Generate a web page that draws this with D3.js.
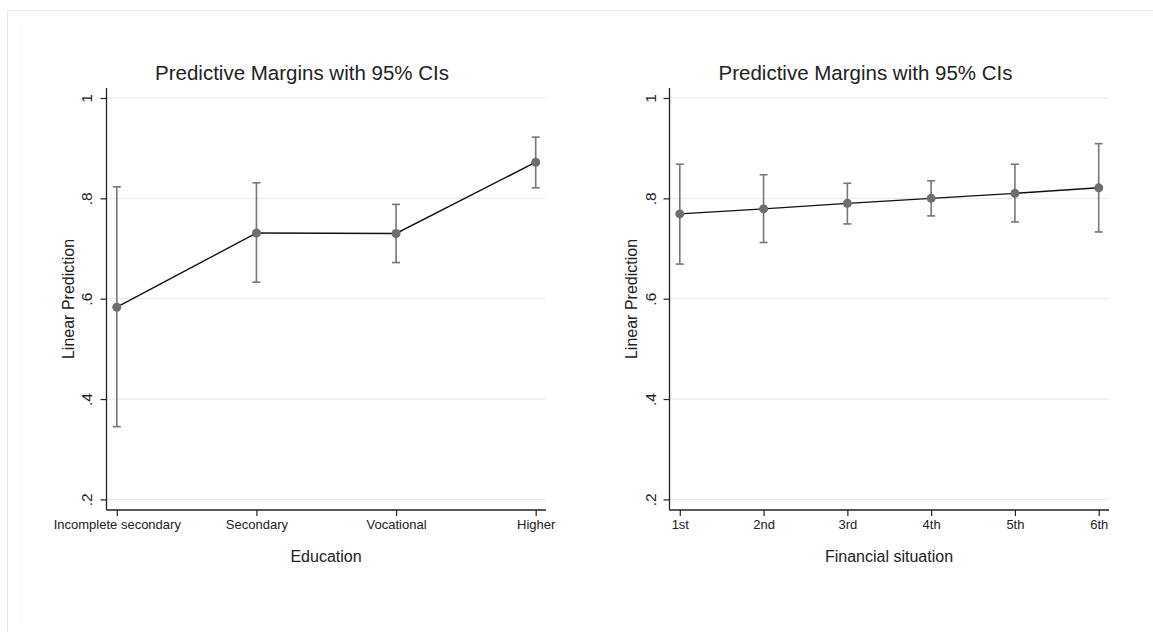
<!DOCTYPE html>
<html>
<head>
<meta charset="utf-8">
<script src="https://cdn.jsdelivr.net/npm/d3@7"></script>
<style>
  html, body { margin: 0; padding: 0; background: #ffffff; }
  svg { display: block; }
  text { font-family: Arial, "Liberation Sans", Helvetica, sans-serif; fill: #222; }
</style>
</head>
<body>
<svg id="chart" width="1153" height="632"></svg>
<script>
// Margins by education level
const eduCategories = ["Incomplete secondary", "Secondary", "Vocational", "Higher"];
const eduMargin = [0.583, 0.731, 0.730, 0.872];
const eduLower  = [0.345, 0.633, 0.672, 0.821];
const eduUpper  = [0.823, 0.831, 0.788, 0.922];

// Margins by financial situation
const finCategories = ["1st", "2nd", "3rd", "4th", "5th", "6th"];
const finMargin = [0.769, 0.779, 0.790, 0.800, 0.810, 0.821];
const finLower  = [0.669, 0.712, 0.749, 0.765, 0.753, 0.733];
const finUpper  = [0.868, 0.847, 0.830, 0.835, 0.868, 0.909];

const yTicks = [0.2, 0.4, 0.6, 0.8, 1];
const yTickLabels = [".2", ".4", ".6", ".8", "1"];
const chartTitle = "Predictive Margins with 95% CIs";
const yTitle = "Linear Prediction";

const svg = d3.select("#chart");

// faint outer frame
const frame = svg.append("g");
frame.append("line").attr("x1", 7).attr("x2", 1153).attr("y1", 10.5).attr("y2", 10.5)
  .attr("stroke", "#e6ecec").attr("stroke-width", 1);
frame.append("line").attr("x1", 7.5).attr("x2", 7.5).attr("y1", 10).attr("y2", 632)
  .attr("stroke", "#e6ecec").attr("stroke-width", 1);
frame.append("line").attr("x1", 20.5).attr("x2", 20.5).attr("y1", 23).attr("y2", 624)
  .attr("stroke", "#f3f5f5").attr("stroke-width", 1);

function panel(cfg) {
  const g = svg.append("g");
  const top = 88, bottom = 510;
  const x = d3.scalePoint()
    .domain(cfg.categories)
    .range([cfg.x0 + cfg.inset, cfg.x1 - cfg.inset]);
  const y = d3.scaleLinear().domain([0.2, 1]).range([499.4, 98]);

  // horizontal grid
  g.append("g").selectAll("line").data(yTicks).join("line")
    .attr("x1", cfg.x0).attr("x2", cfg.x1)
    .attr("y1", d => y(d)).attr("y2", d => y(d))
    .attr("stroke", "#e8e8e8").attr("stroke-width", 1);

  // y axis
  const yAxis = d3.axisLeft(y).tickValues(yTicks)
    .tickFormat((d, i) => yTickLabels[i]).tickSize(6).tickPadding(3);
  const ya = g.append("g").attr("transform", `translate(${cfg.x0},0)`).call(yAxis);
  ya.select(".domain").remove();
  ya.selectAll(".tick line").attr("stroke", "#222").attr("stroke-width", 1.2);
  ya.selectAll(".tick text")
    .attr("x", null).attr("dy", null)
    .attr("transform", `translate(${cfg.yLabelX - cfg.x0},0) rotate(-90)`)
    .attr("text-anchor", "middle").attr("dominant-baseline", "central")
    .style("font-size", "15.5px").style("font-family", "Arial, 'Liberation Sans', sans-serif")
    .attr("fill", "#222");
  g.append("line").attr("x1", cfg.x0).attr("x2", cfg.x0).attr("y1", top).attr("y2", bottom)
    .attr("stroke", "#222").attr("stroke-width", 1.3);

  // x axis
  const xAxis = d3.axisBottom(x).tickSize(6).tickPadding(4);
  const xa = g.append("g").attr("transform", `translate(0,${bottom})`).call(xAxis);
  xa.select(".domain").remove();
  xa.selectAll(".tick line").attr("stroke", "#222").attr("stroke-width", 1.2);
  xa.selectAll(".tick text")
    .attr("y", 14).attr("dy", "0.35em")
    .style("font-size", "13px").style("font-family", "Arial, 'Liberation Sans', sans-serif")
    .attr("fill", "#222");
  g.append("line").attr("x1", cfg.x0).attr("x2", cfg.x1).attr("y1", bottom).attr("y2", bottom)
    .attr("stroke", "#222").attr("stroke-width", 1.3);

  // titles
  g.append("text").attr("x", cfg.titleX).attr("y", 72.5).attr("dy", "0.35em")
    .attr("text-anchor", "middle").style("font-size", "20.5px").text(chartTitle);
  g.append("text").attr("transform", `translate(${cfg.yTitleX},${(top + bottom) / 2 + 0}) rotate(-90)`)
    .attr("text-anchor", "middle").attr("dominant-baseline", "central")
    .style("font-size", "16px").text(yTitle);
  g.append("text").attr("x", cfg.xTitleX).attr("y", 556).attr("dy", "0.35em")
    .attr("text-anchor", "middle").style("font-size", "16px").text(cfg.xTitle);

  const rows = cfg.categories.map((c, i) => ({
    c, m: cfg.margin[i], lo: cfg.lower[i], hi: cfg.upper[i]
  }));

  // confidence intervals
  const ci = g.append("g").attr("stroke", "#777777").attr("stroke-width", 1.6).attr("fill", "none");
  ci.selectAll("line.bar").data(rows).join("line").attr("class", "bar")
    .attr("x1", d => x(d.c)).attr("x2", d => x(d.c))
    .attr("y1", d => y(d.lo)).attr("y2", d => y(d.hi));
  ci.selectAll("line.capHi").data(rows).join("line").attr("class", "capHi")
    .attr("x1", d => x(d.c) - 4).attr("x2", d => x(d.c) + 4)
    .attr("y1", d => y(d.hi)).attr("y2", d => y(d.hi));
  ci.selectAll("line.capLo").data(rows).join("line").attr("class", "capLo")
    .attr("x1", d => x(d.c) - 4).attr("x2", d => x(d.c) + 4)
    .attr("y1", d => y(d.lo)).attr("y2", d => y(d.lo));

  // connecting line
  const line = d3.line().x(d => x(d.c)).y(d => y(d.m));
  g.append("path").datum(rows).attr("d", line)
    .attr("fill", "none").attr("stroke", "#111").attr("stroke-width", 1.4);

  // point estimates
  g.append("g").selectAll("circle").data(rows).join("circle")
    .attr("cx", d => x(d.c)).attr("cy", d => y(d.m)).attr("r", 4.5)
    .attr("fill", "#6e6e6e");
}

panel({
  categories: eduCategories, margin: eduMargin, lower: eduLower, upper: eduUpper,
  x0: 106.5, x1: 546, inset: 10.3,
  yLabelX: 86, yTitleX: 68.5, titleX: 302, xTitleX: 326, xTitle: "Education"
});

panel({
  categories: finCategories, margin: finMargin, lower: finLower, upper: finUpper,
  x0: 669.5, x1: 1109, inset: 10.3,
  yLabelX: 650.5, yTitleX: 631, titleX: 865.5, xTitleX: 889, xTitle: "Financial situation"
});
</script>
</body>
</html>
